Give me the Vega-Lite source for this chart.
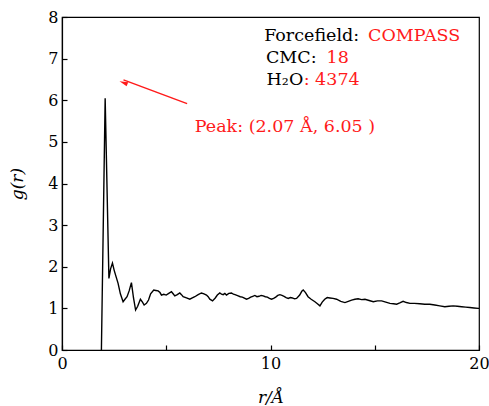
{
  "$schema": "https://vega.github.io/schema/vega-lite/v6.json",
  "width": 417,
  "height": 333,
  "autosize": {"type": "none"},
  "padding": {"left": 62, "top": 17, "right": 10, "bottom": 56},
  "background": "white",
  "config": {
    "view": {"stroke": "black", "strokeWidth": 1.2},
    "axis": {
      "domainColor": "black",
      "domainWidth": 1.2,
      "tickColor": "black",
      "tickSize": -5,
      "tickWidth": 1.2,
      "grid": false,
      "labelFlush": false,
      "labelFont": "DejaVu Serif",
      "labelFontSize": 16,
      "labelColor": "black",
      "titleFont": "DejaVu Serif",
      "titleFontSize": 17,
      "titleFontWeight": "normal",
      "titleColor": "black"
    }
  },
  "datasets": {
    "rdf": [
      {"r": 1.89, "g": 0}, {"r": 2.07, "g": 6.05}, {"r": 2.25, "g": 1.72}, {"r": 2.33, "g": 1.95},
      {"r": 2.42, "g": 2.09}, {"r": 2.5, "g": 1.92}, {"r": 2.6, "g": 1.75}, {"r": 2.69, "g": 1.6},
      {"r": 2.8, "g": 1.35}, {"r": 2.93, "g": 1.16}, {"r": 3.02, "g": 1.22}, {"r": 3.12, "g": 1.28},
      {"r": 3.22, "g": 1.42}, {"r": 3.33, "g": 1.62}, {"r": 3.43, "g": 1.25}, {"r": 3.53, "g": 0.96},
      {"r": 3.63, "g": 1.05}, {"r": 3.76, "g": 1.22}, {"r": 3.86, "g": 1.15}, {"r": 3.94, "g": 1.08},
      {"r": 4.05, "g": 1.12}, {"r": 4.15, "g": 1.2}, {"r": 4.25, "g": 1.35}, {"r": 4.4, "g": 1.44},
      {"r": 4.5, "g": 1.43}, {"r": 4.61, "g": 1.42}, {"r": 4.7, "g": 1.38}, {"r": 4.77, "g": 1.32},
      {"r": 4.88, "g": 1.34}, {"r": 5.0, "g": 1.32}, {"r": 5.12, "g": 1.36}, {"r": 5.25, "g": 1.4},
      {"r": 5.33, "g": 1.35}, {"r": 5.41, "g": 1.3}, {"r": 5.53, "g": 1.33}, {"r": 5.65, "g": 1.37},
      {"r": 5.73, "g": 1.33}, {"r": 5.81, "g": 1.28}, {"r": 5.97, "g": 1.25}, {"r": 6.13, "g": 1.22},
      {"r": 6.25, "g": 1.25}, {"r": 6.37, "g": 1.28}, {"r": 6.53, "g": 1.33}, {"r": 6.69, "g": 1.37},
      {"r": 6.81, "g": 1.35}, {"r": 6.93, "g": 1.32}, {"r": 7.01, "g": 1.28}, {"r": 7.09, "g": 1.22},
      {"r": 7.22, "g": 1.18}, {"r": 7.35, "g": 1.25}, {"r": 7.45, "g": 1.32}, {"r": 7.57, "g": 1.37},
      {"r": 7.65, "g": 1.34}, {"r": 7.73, "g": 1.33}, {"r": 7.81, "g": 1.36}, {"r": 7.89, "g": 1.32},
      {"r": 8.0, "g": 1.36}, {"r": 8.13, "g": 1.37}, {"r": 8.22, "g": 1.34}, {"r": 8.3, "g": 1.33},
      {"r": 8.45, "g": 1.3}, {"r": 8.55, "g": 1.28}, {"r": 8.65, "g": 1.27}, {"r": 8.85, "g": 1.22},
      {"r": 8.95, "g": 1.24}, {"r": 9.05, "g": 1.27}, {"r": 9.15, "g": 1.29}, {"r": 9.25, "g": 1.31},
      {"r": 9.35, "g": 1.28}, {"r": 9.45, "g": 1.29}, {"r": 9.55, "g": 1.31}, {"r": 9.65, "g": 1.3},
      {"r": 9.75, "g": 1.28}, {"r": 9.85, "g": 1.27}, {"r": 9.95, "g": 1.24}, {"r": 10.05, "g": 1.22},
      {"r": 10.15, "g": 1.24}, {"r": 10.25, "g": 1.27}, {"r": 10.35, "g": 1.31}, {"r": 10.45, "g": 1.33},
      {"r": 10.55, "g": 1.31}, {"r": 10.65, "g": 1.29}, {"r": 10.75, "g": 1.26}, {"r": 10.85, "g": 1.24},
      {"r": 10.95, "g": 1.26}, {"r": 11.05, "g": 1.25}, {"r": 11.15, "g": 1.23}, {"r": 11.25, "g": 1.24},
      {"r": 11.4, "g": 1.32}, {"r": 11.5, "g": 1.41}, {"r": 11.57, "g": 1.44}, {"r": 11.68, "g": 1.38},
      {"r": 11.8, "g": 1.28}, {"r": 11.95, "g": 1.22}, {"r": 12.13, "g": 1.16}, {"r": 12.25, "g": 1.11},
      {"r": 12.37, "g": 1.06}, {"r": 12.48, "g": 1.15}, {"r": 12.6, "g": 1.22}, {"r": 12.72, "g": 1.26},
      {"r": 12.85, "g": 1.25}, {"r": 13.0, "g": 1.24}, {"r": 13.17, "g": 1.22}, {"r": 13.37, "g": 1.17},
      {"r": 13.57, "g": 1.14}, {"r": 13.73, "g": 1.17}, {"r": 13.89, "g": 1.2}, {"r": 14.05, "g": 1.22},
      {"r": 14.2, "g": 1.23}, {"r": 14.37, "g": 1.21}, {"r": 14.53, "g": 1.22}, {"r": 14.73, "g": 1.19},
      {"r": 14.93, "g": 1.16}, {"r": 15.13, "g": 1.18}, {"r": 15.33, "g": 1.18}, {"r": 15.53, "g": 1.15},
      {"r": 15.73, "g": 1.12}, {"r": 15.9, "g": 1.11}, {"r": 16.05, "g": 1.1}, {"r": 16.2, "g": 1.13},
      {"r": 16.36, "g": 1.17}, {"r": 16.52, "g": 1.14}, {"r": 16.69, "g": 1.12}, {"r": 16.9, "g": 1.12},
      {"r": 17.16, "g": 1.11}, {"r": 17.4, "g": 1.1}, {"r": 17.64, "g": 1.1}, {"r": 17.88, "g": 1.08},
      {"r": 18.12, "g": 1.06}, {"r": 18.36, "g": 1.04}, {"r": 18.56, "g": 1.05}, {"r": 18.76, "g": 1.06},
      {"r": 18.96, "g": 1.05}, {"r": 19.17, "g": 1.04}, {"r": 19.36, "g": 1.03}, {"r": 19.56, "g": 1.02},
      {"r": 19.76, "g": 1.01}, {"r": 19.96, "g": 1.0}, {"r": 20.0, "g": 1.0}
    ],
    "blackText": [
      {"r": 14.25, "g": 7.55, "t": "Forcefield:"},
      {"r": 12.21, "g": 7.02, "t": "CMC:"},
      {"r": 11.57, "g": 6.49, "t": "H₂O"}
    ],
    "redText": [
      {"r": 14.68, "g": 7.55, "t": "COMPASS"},
      {"r": 12.69, "g": 7.02, "t": "18"},
      {"r": 11.59, "g": 6.49, "t": ": 4374"},
      {"r": 6.37, "g": 5.36, "t": "Peak: (2.07 Å, 6.05 )"}
    ],
    "arrow": [{"r": 6.0, "g": 5.92, "r2": 2.95, "g2": 6.49}],
    "head": [{"r": 3.0, "g": 6.41}]
  },
  "layer": [
    {
      "data": {"name": "rdf"},
      "mark": {"type": "line", "color": "black", "strokeWidth": 1.4, "clip": true},
      "encoding": {
        "x": {
          "field": "r", "type": "quantitative",
          "scale": {"domain": [0, 20], "nice": false, "zero": false},
          "axis": {
            "values": [0, 5, 10, 15, 20],
            "labelExpr": "datum.value % 10 === 0 ? datum.label : ''",
            "labelPadding": 10,
            "title": "r/Å",
            "titleFontStyle": "italic",
            "titlePadding": 18
          }
        },
        "y": {
          "field": "g", "type": "quantitative",
          "scale": {"domain": [0, 8], "nice": false},
          "axis": {
            "values": [0, 0.5, 1, 1.5, 2, 2.5, 3, 3.5, 4, 4.5, 5, 5.5, 6, 6.5, 7, 7.5, 8],
            "labelExpr": "datum.value % 1 === 0 ? datum.label : ''",
            "labelPadding": 9,
            "title": "g(r)",
            "titleFontStyle": "italic",
            "titlePadding": 21
          }
        }
      }
    },
    {
      "data": {"name": "arrow"},
      "mark": {"type": "rule", "color": "#ff1a1a", "strokeWidth": 1.5},
      "encoding": {
        "x": {"field": "r", "type": "quantitative"},
        "y": {"field": "g", "type": "quantitative"},
        "x2": {"field": "r2"},
        "y2": {"field": "g2"}
      }
    },
    {
      "data": {"name": "head"},
      "mark": {"type": "point", "shape": "M0,-1.4L0.55,0.8L-0.55,0.8Z", "filled": true, "color": "#ff1a1a", "opacity": 1, "size": 60, "angle": 292},
      "encoding": {
        "x": {"field": "r", "type": "quantitative"},
        "y": {"field": "g", "type": "quantitative"}
      }
    },
    {
      "data": {"name": "blackText"},
      "mark": {"type": "text", "align": "right", "baseline": "middle", "font": "DejaVu Serif", "fontSize": 17.5, "color": "black"},
      "encoding": {
        "x": {"field": "r", "type": "quantitative"},
        "y": {"field": "g", "type": "quantitative"},
        "text": {"field": "t"}
      }
    },
    {
      "data": {"name": "redText"},
      "mark": {"type": "text", "align": "left", "baseline": "middle", "font": "DejaVu Serif", "fontSize": 17.5, "color": "#ff1a1a"},
      "encoding": {
        "x": {"field": "r", "type": "quantitative"},
        "y": {"field": "g", "type": "quantitative"},
        "text": {"field": "t"}
      }
    }
  ]
}
